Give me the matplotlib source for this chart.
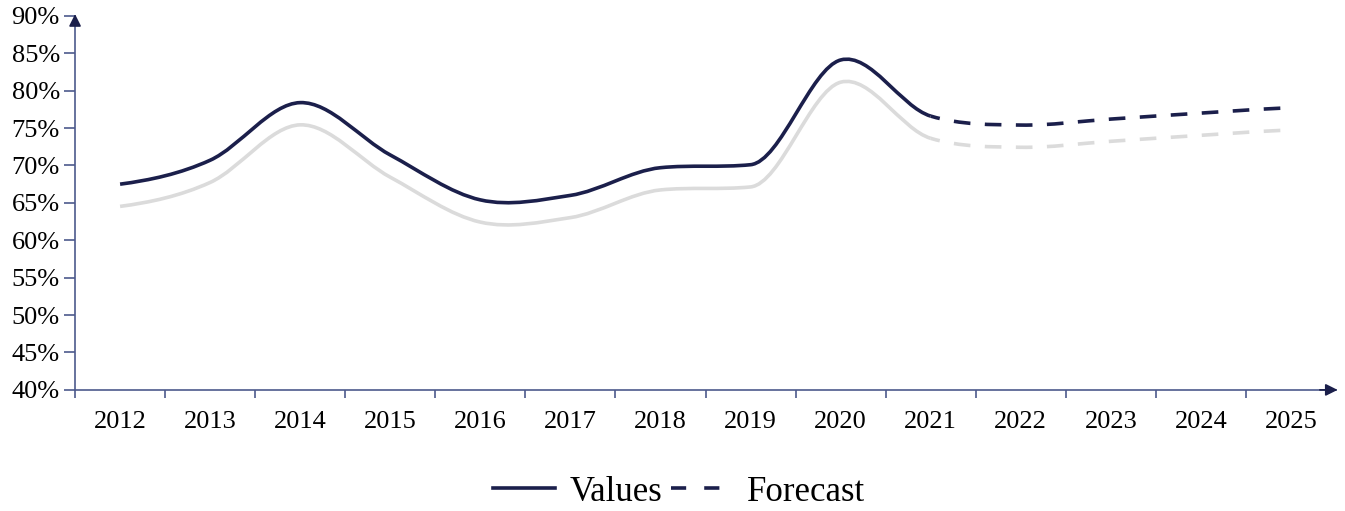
import numpy as np
import matplotlib.pyplot as plt
from matplotlib.path import Path
from matplotlib.patches import PathPatch
from matplotlib import patheffects as pe

years = ["2012", "2013", "2014", "2015", "2016", "2017", "2018",
         "2019", "2020", "2021", "2022", "2023", "2024", "2025"]
values = [67.5, 70.7, 78.4, 71.4, 65.4, 66.0, 69.7, 70.1, 84.1, 76.6]
forecast = [76.6, 75.4, 76.2, 77.0, 77.7]

navy = "#1b1f4b"
axis_col = "#4d5a8c"
shadow = [pe.SimpleLineShadow(offset=(0, -16), shadow_color="#cfcfcf", alpha=0.75),
          pe.Normal()]

plt.rcParams["font.family"] = "Liberation Serif"


def slopes(y):
    # catmull-rom tangents, clamped where the data is monotone so
    # short flat runs don't sag
    y = np.asarray(y, float)
    d = np.diff(y)
    m = np.zeros(len(y))
    for i in range(1, len(y) - 1):
        m[i] = (y[i + 1] - y[i - 1]) / 2
        if d[i - 1] * d[i] > 0:
            lim = 3 * min(abs(d[i - 1]), abs(d[i]))
            m[i] = np.sign(m[i]) * min(abs(m[i]), lim)
    m[0] = d[0] * 0.5
    m[-1] = d[-1] * 0.5
    return m


def bezier_path(x, y, m):
    verts = [(x[0], y[0])]
    codes = [Path.MOVETO]
    for i in range(len(x) - 1):
        h = x[i + 1] - x[i]
        verts += [(x[i] + h / 3, y[i] + m[i] * h / 3),
                  (x[i + 1] - h / 3, y[i + 1] - m[i + 1] * h / 3),
                  (x[i + 1], y[i + 1])]
        codes += [Path.CURVE4] * 3
    return Path(verts, codes)


fig = plt.figure(figsize=(13.45, 5.11), dpi=100)
ax = fig.add_axes([0.0558, 0.237, 0.9375, 0.732])

# tangents taken over the joined series so the hand-off at 2021 is smooth
joined = values + forecast[1:]
tang = slopes(joined)
n = len(values)
xv = np.arange(n)
xf = np.arange(n - 1, n - 1 + len(forecast))

solid = PathPatch(bezier_path(xv, values, tang[:n]), fill=False, ec=navy,
                  lw=2.6, capstyle="butt", path_effects=shadow, zorder=3)
dashed = PathPatch(bezier_path(xf, forecast, tang[n - 1:]), fill=False, ec=navy,
                   lw=2.6, linestyle=(2, (4.6, 4.0)), capstyle="butt",
                   path_effects=shadow, zorder=3)
ax.add_patch(solid)
ax.add_patch(dashed)

# legend handles
ax.plot([], [], color=navy, lw=2.6, label="Values")
ax.plot([], [], color=navy, lw=2.6, ls=(0, (4.2, 5.0)), label="Forecast")

ax.set_xlim(-0.5, len(years) - 0.5)
ax.set_ylim(40, 90)
ax.set_yticks(np.arange(40, 91, 5))
ax.set_yticklabels([f"{v}%" for v in range(40, 91, 5)], fontsize=19)
ax.set_xticks(np.arange(-0.5, len(years) - 1, 1))
ax.set_xticklabels([])
ax.set_xticks(np.arange(len(years)), minor=True)
ax.set_xticklabels(years, minor=True, fontsize=19)
ax.tick_params(axis="x", which="major", length=6, width=1.2, color=axis_col)
ax.tick_params(axis="x", which="minor", length=0, pad=15)
ax.tick_params(axis="y", length=8, width=1.2, color=axis_col, pad=3)

for s in ["top", "right"]:
    ax.spines[s].set_visible(False)
for s in ["left", "bottom"]:
    ax.spines[s].set_color(axis_col)
    ax.spines[s].set_linewidth(1.2)

# arrow heads on the axes
ax.annotate("", xy=(1.0035, 0), xytext=(0.985, 0), xycoords="axes fraction",
            arrowprops=dict(arrowstyle="-|>", color=navy, lw=1.2,
                            mutation_scale=18), annotation_clip=False)
ax.annotate("", xy=(0, 1.012), xytext=(0, 0.97), xycoords="axes fraction",
            arrowprops=dict(arrowstyle="-|>", color=navy, lw=1.2,
                            mutation_scale=18), annotation_clip=False)

fig.legend(loc="center", bbox_to_anchor=(0.505, 0.037), ncol=2,
           frameon=False, fontsize=25, handlelength=1.8, columnspacing=0.25,
           handletextpad=0.4)

fig.savefig("out.png", dpi=100, facecolor="white")
